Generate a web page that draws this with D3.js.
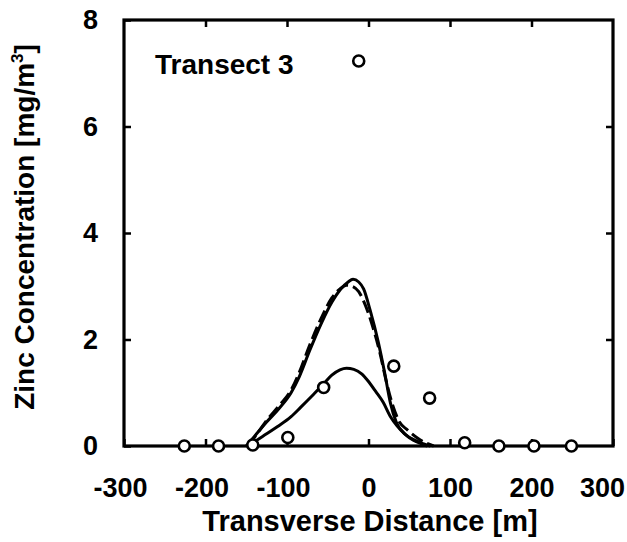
<!DOCTYPE html>
<html>
<head>
<meta charset="utf-8">
<script src="https://cdn.jsdelivr.net/npm/d3@7/dist/d3.min.js"></script>
<style>
  html, body { margin: 0; padding: 0; background: #fff; }
  svg text { font-family: "Liberation Sans", Arial, Helvetica, sans-serif; font-weight: bold; fill: #000; }
</style>
</head>
<body>
<svg id="chart" width="627" height="542"></svg>
<script>
// ---------- data ----------
const xTicks = [-300, -200, -100, 0, 100, 200, 300];
const yTicks = [0, 2, 4, 6, 8];
const panelLabel = "Transect 3";
const xTitle = "Transverse Distance [m]";

// observed concentrations (circles)
const obsX = [-226, -184, -142, -99, -55, -12, 31, 75, 118, 160, 203, 249];
const obsY = [0, 0, 0.02, 0.16, 1.1, 7.23, 1.5, 0.9, 0.06, 0, 0, 0];

// model curve A (solid, tall)
const modelAX = [-150, -140, -125, -110, -95, -85, -72, -58, -45, -35, -25, -19, -12, -6, 2, 12, 20, 27, 34, 45, 58, 68, 76];
const modelAY = [0, 0.18, 0.45, 0.7, 1.0, 1.3, 1.8, 2.3, 2.7, 2.93, 3.08, 3.13, 3.08, 2.95, 2.55, 1.95, 1.36, 0.8, 0.45, 0.22, 0.1, 0.04, 0];

// model curve B (dashed, tall)
const modelBX = [-148, -138, -125, -110, -95, -85, -72, -58, -45, -35, -27, -20, -12, -4, 4, 14, 22, 30, 38, 48, 60, 70, 80];
const modelBY = [0, 0.2, 0.48, 0.75, 1.05, 1.38, 1.9, 2.4, 2.78, 2.95, 3.02, 3.0, 2.9, 2.65, 2.3, 1.75, 1.2, 0.75, 0.45, 0.3, 0.15, 0.06, 0];

// model curve C (solid, low)
const modelCX = [-148, -141, -130, -112, -95, -83, -70, -55, -45, -35, -27, -18, -8, -1, 9, 18, 27, 35, 45, 55, 65, 72];
const modelCY = [0, 0.07, 0.18, 0.36, 0.55, 0.73, 0.93, 1.17, 1.33, 1.43, 1.46, 1.44, 1.35, 1.23, 1.02, 0.82, 0.55, 0.38, 0.22, 0.11, 0.04, 0];

// ---------- layout ----------
const svg = d3.select("#chart");
const L = 124, R = 613, T = 20, B = 446;

const x = d3.scaleLinear().domain([-300, 300]).range([L, R]);
const y = d3.scaleLinear().domain([0, 8]).range([B, T]);

const inner = xTicks.filter(v => v > -300 && v < 300);
const innerY = yTicks.filter(v => v > 0 && v < 8);

// bottom axis with labels (plain hyphen minus, as in the original)
const gB = svg.append("g").attr("transform", `translate(0,${B})`)
  .call(d3.axisBottom(x).tickValues(xTicks).tickFormat(d => String(d))
    .tickSize(-7).tickSizeOuter(0).tickPadding(32));
gB.selectAll("text").attr("font-size", 27)
  .attr("dx", d => d < 0 ? -4 : (d === 300 ? -11 : 0));
// left axis with labels
const gL = svg.append("g").attr("transform", `translate(${L},0)`)
  .call(d3.axisLeft(y).tickValues(yTicks).tickFormat(d => String(d))
    .tickSize(-7).tickSizeOuter(0).tickPadding(26));
gL.selectAll("text").attr("font-size", 27);
// top & right ticks
const gT = svg.append("g").attr("transform", `translate(0,${T})`)
  .call(d3.axisTop(x).tickValues(inner).tickSize(-7).tickSizeOuter(0).tickFormat(""));
const gR = svg.append("g").attr("transform", `translate(${R},0)`)
  .call(d3.axisRight(y).tickValues(innerY).tickSize(-7).tickSizeOuter(0).tickFormat(""));

[gB, gL, gT, gR].forEach(g => {
  g.select(".domain").remove();
  g.selectAll("line").attr("stroke", "#000").attr("stroke-width", 2.5);
  g.attr("font-family", null).attr("font-size", null);
});

// frame
svg.append("rect").attr("x", L).attr("y", T).attr("width", R - L).attr("height", B - T)
  .attr("fill", "none").attr("stroke", "#000").attr("stroke-width", 3.2);

// curves
const line = d3.line().x(d => x(d[0])).y(d => y(d[1])).curve(d3.curveMonotoneX);
const series = [
  {xs: modelAX, ys: modelAY, dash: null},
  {xs: modelBX, ys: modelBY, dash: "13,5"},
  {xs: modelCX, ys: modelCY, dash: null}
];
series.forEach(s => {
  svg.append("path")
    .datum(s.xs.map((v, i) => [v, s.ys[i]]))
    .attr("d", line)
    .attr("fill", "none")
    .attr("stroke", "#000")
    .attr("stroke-width", 3)
    .attr("stroke-linejoin", "round")
    .attr("stroke-dasharray", s.dash);
});

// observed points
svg.append("g").selectAll("circle")
  .data(obsX.map((v, i) => [v, obsY[i]]))
  .join("circle")
  .attr("cx", d => x(d[0]))
  .attr("cy", d => y(d[1]))
  .attr("r", 5.5)
  .attr("fill", "#fff")
  .attr("stroke", "#000")
  .attr("stroke-width", 2.6);

// panel label
svg.append("text").attr("x", 155).attr("y", 74).attr("font-size", 28).text(panelLabel);

// axis titles
svg.append("text").attr("x", 370).attr("y", 531).attr("text-anchor", "middle")
  .attr("font-size", 29).text(xTitle);

const yt = svg.append("text").attr("transform", "translate(34,227) rotate(-90)")
  .attr("text-anchor", "middle").attr("font-size", 28);
yt.append("tspan").text("Zinc Concentration [mg/m");
yt.append("tspan").attr("font-size", 17).attr("dy", -11).text("3");
yt.append("tspan").attr("dy", 11).text("]");
</script>
</body>
</html>
